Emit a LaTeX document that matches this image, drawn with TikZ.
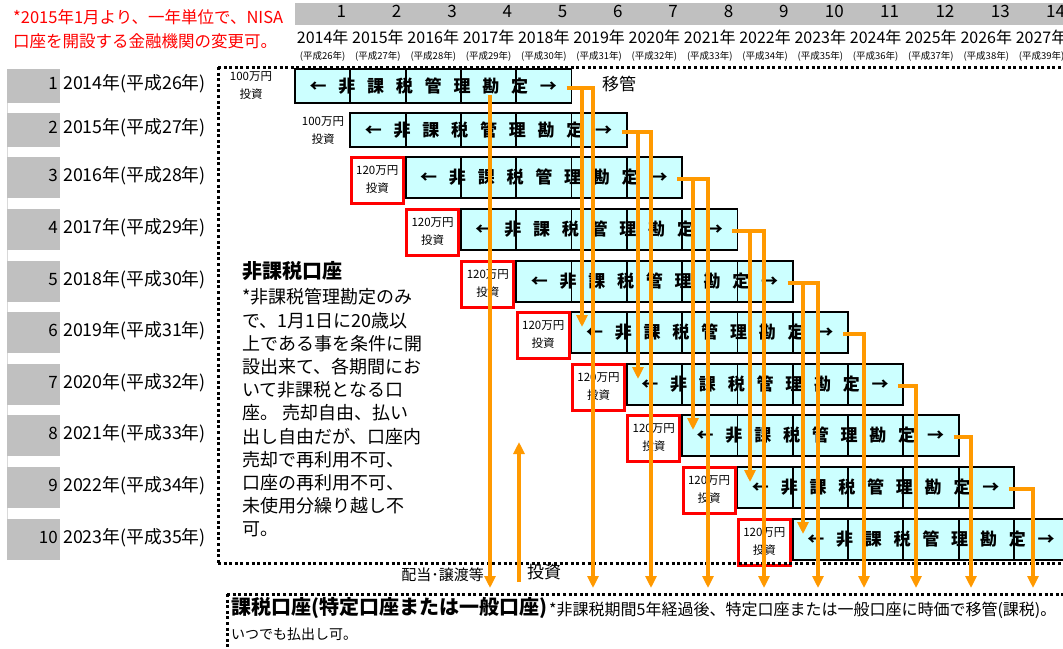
\documentclass[tikz,border=0pt]{standalone}
\usepackage{fontspec}
\setmainfont{Noto Sans CJK JP}
\usetikzlibrary{arrows.meta}
\definecolor{barfill}{HTML}{CCFFFF}
\definecolor{hdrgray}{HTML}{C0C0C0}
\definecolor{orng}{HTML}{FF9900}
\definecolor{nred}{HTML}{FF0000}
\newcommand\fs[1]{\fontsize{#1}{#1}\selectfont}
\newcommand\bc[1]{\makebox[28.8pt]{#1}}
\newcommand\bartext{\bfseries\bc{←}\bc{非}\bc{課}\bc{税}\bc{管}\bc{理}\bc{勘}\bc{定}\bc{→}}
\tikzset{
  txt/.style={inner sep=0pt, text height=0.88em, text depth=0.12em},
  hdrnum/.style={txt, anchor=east, font=\fs{17}},
  yearlbl/.style={txt, font=\fs{16}},
  heisei/.style={txt, font=\fs{9.5}},
  rowbox/.style={fill=hdrgray, inner sep=0pt, outer sep=0pt, anchor=north west, minimum width=53pt},
  rowlbl/.style={txt, anchor=west, font=\fs{17.8}},
  rownum/.style={txt, anchor=east, font=\fs{17}},
  barbox/.style={draw=black, line width=1.8pt, fill=barfill, inner sep=0pt, outer sep=0pt, anchor=north west, minimum width=276.5pt, font=\fs{17}},
  divider/.style={draw=black, line width=1.8pt},
  redbox/.style={draw=nred, line width=3pt, fill=white, inner sep=0pt, minimum width=52pt, minimum height=46pt, align=center, font=\fontsize{11.5}{18}\selectfont},
  invest/.style={inner sep=0pt, align=center, font=\fontsize{11.5}{18}\selectfont},
  flow/.style={draw=orng, line width=4pt},
  tip/.style={-{Triangle[width=11pt,length=12pt]}},
  dotline/.style={line width=3pt, dash pattern=on 3pt off 2.6pt},
  body/.style={txt, anchor=west, font=\fs{18}},
}
\begin{document}
\begin{tikzpicture}[x=1pt,y=-1pt]
\useasboundingbox (0,0) rectangle (1063,648);
\clip (0,0) rectangle (1063,648);
\fill[white] (0,0) rectangle (1063,648);

% red note
\node[txt, anchor=west, font=\fs{16.5}, text=nred] (note1) at (13,20) {*2015年1月より、一年単位で、NISA};
\node[txt, anchor=west, font=\fs{16.5}, text=nred] (note2) at (13,44) {口座を開設する金融機関の変更可。};

% header band
\node[fill=hdrgray, anchor=north west, minimum width=768pt, minimum height=22pt, inner sep=0pt, outer sep=0pt] (band) at (295,3) {};
\foreach \c in {1,...,14}{
  \pgfmathsetmacro\xr{295+55.3*\c-4}
  \pgfmathsetmacro\xc{295+55.3*(\c-0.5)}
  \pgfmathtruncatemacro\yr{2013+\c}
  \pgfmathtruncatemacro\hs{25+\c}
  \node[hdrnum] (hn\c) at (\xr,14) {\c};
  \node[yearlbl] (hy\c) at (\xc,40) {\yr 年};
  \node[heisei] (hh\c) at (\xc,56) {(平成\hs 年)};
}

% left column line
\draw[hdrgray!60, line width=1pt] (7.5,69) -- (7.5,557);

% rows
\foreach \k/\t/\h in {1/69/34,2/113/34,3/157/41,4/209/41,5/261/41,6/312/41,7/364/41,8/415/41,9/467/41,10/519/41}{
  \pgfmathsetmacro\cy{\t+\h/2}
  \pgfmathtruncatemacro\yr{2013+\k}
  \pgfmathtruncatemacro\hs{25+\k}
  \pgfmathsetmacro\bx{295+55.3*(\k-1)}
  \node[rowbox, minimum height=\h pt] (g\k) at (7,\t) {};
  \node[rownum] (n\k) at (58,\cy) {\k};
  \node[rowlbl] (l\k) at (63,\cy) {\yr 年(平成\hs 年)};
  \ifnum\k>2
    \pgfmathsetmacro\rx{295+55.3*(\k-2)+27}
    \pgfmathsetmacro\ry{\t+23}
    \node[redbox] (r\k) at (\rx,\ry) {120万円\\投資};
  \fi
  \node[barbox, minimum height=\h pt] (bar\k) at (\bx,\t) {\bartext};
  \foreach \j in {1,...,4}{
    \draw[divider] (\bx+55.3*\j,\t) -- (\bx+55.3*\j,\t+\h);
  }
}
\node[invest] (i1) at (251,86) {100万円\\投資};
\node[invest] (i2) at (323,131) {100万円\\投資};

% dotted frames
\draw[dotline] (218,67) -- (1063,67);
\draw[dotline] (218,67) -- (218,563);
\draw[dotline] (218,563) -- (1063,563);
\draw[dotline] (227,594) -- (1063,594);
\draw[dotline] (227,594) -- (227,648);

% orange transfers to the bottom
\foreach \k/\vb in {1/593,2/651,3/708,4/764,5/818,6/864,7/916,8/971,9/1033}{
  \coordinate (bot\k) at (\vb,588);
  \draw[flow,tip] ([xshift=-5pt,yshift=-1.5pt]bar\k.east) -| (bot\k);
}
% orange roll-over into next accounts
\foreach \k/\va/\ty in {1/582/327,2/638/379,3/693/430,4/750/482,5/803/534}{
  \coordinate (vs\k) at ([yshift=-1.5pt]bar\k.east -| {\va},0);
  \coordinate (vt\k) at (\va,\ty);
  \draw[flow,tip] (vs\k) -- (vt\k);
}
\coordinate (ds) at (490,95);
\coordinate (de) at (490,588);
\draw[flow,tip] (ds) -- (de);
\coordinate (us) at (519,582);
\coordinate (ue) at (519,442);
\draw[flow,tip] (us) -- (ue);

\node[txt, anchor=west, font=\fs{17}] (ikan) at (602,87) {移管};
\node[txt, anchor=east, font=\fs{15}] (haito) at (484,577) {配当･譲渡等};
\node[txt, anchor=west, font=\fs{17}] (toshi) at (527,575) {投資};

% text block
\node[txt, anchor=west, font=\fs{20}\bfseries] (ht) at (242,275) {非課税口座};
\foreach \i/\s in {1/{*非課税管理勘定のみ},2/{で、1月1日に20歳以},3/{上である事を条件に開},4/{設出来て、各期間にお},5/{いて非課税となる口},6/{座。 売却自由、払い},7/{出し自由だが、口座内},8/{売却で再利用不可、},9/{口座の再利用不可、},10/{未使用分繰り越し不},11/{可。}}{
  \node[body] (b\i) at (242,{300+23.2*(\i-1)}) {\s};
}

% bottom box
\node[txt, anchor=west, font=\fs{20}\bfseries] (kt) at (231,611) {課税口座(特定口座または一般口座)};
\node[txt, anchor=west, font=\fs{16}] (kn) at (549,612) {*非課税期間5年経過後、特定口座または一般口座に時価で移管(課税)。};
\node[txt, anchor=west, font=\fs{14}] (kp) at (231,636) {いつでも払出し可。};
\end{tikzpicture}
\end{document}
